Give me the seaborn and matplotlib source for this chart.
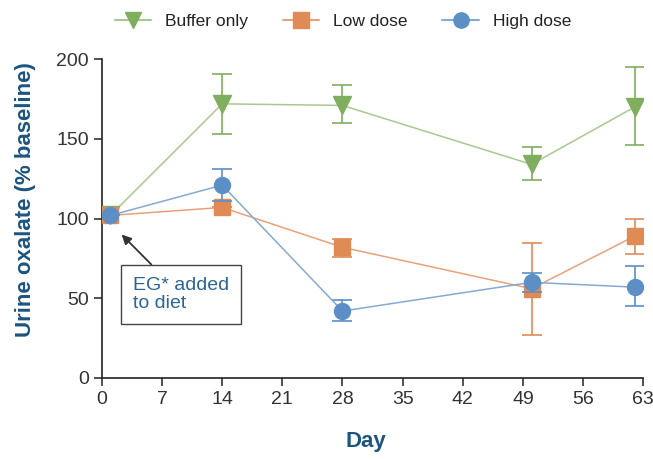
import numpy as np
import pandas as pd
import matplotlib
matplotlib.use("Agg")
import matplotlib.pyplot as plt
import seaborn as sns

# === DATA
days = [1, 14, 28, 50, 62]
buffer_mean = [102, 172, 171, 134, 170]
buffer_lo = [102, 153, 160, 124, 146]
buffer_hi = [102, 191, 184, 145, 195]
low_mean = [102, 107, 82, 56, 89]
low_lo = [102, 107, 76, 27, 78]
low_hi = [102, 107, 87, 85, 100]
high_mean = [102, 121, 42, 60, 57]
high_lo = [102, 111, 36, 54, 45]
high_hi = [102, 131, 49, 66, 70]

groups = ["Buffer only", "Low dose", "High dose"]
x_ticks = [0, 7, 14, 21, 28, 35, 42, 49, 56, 63]
y_ticks = [0, 50, 100, 150, 200]

# === STYLE
sns.set_theme(style="ticks")
plt.rcParams["font.family"] = ["Liberation Sans", "DejaVu Sans"]

marker_cols = {"Buffer only": "#7fae5e", "Low dose": "#e08b55", "High dose": "#5b8fc6"}
line_cols = {"Buffer only": "#a9c891", "Low dose": "#e6a27a", "High dose": "#86a9cf"}
markers = {"Buffer only": "v", "Low dose": "s", "High dose": "o"}
title_col = "#1d5480"

df = pd.DataFrame({
    "Day": days * 3,
    "Value": buffer_mean + low_mean + high_mean,
    "Group": [g for g in groups for _ in days],
})
err = {
    "Buffer only": (buffer_mean, buffer_lo, buffer_hi),
    "Low dose": (low_mean, low_lo, low_hi),
    "High dose": (high_mean, high_lo, high_hi),
}

fig = plt.figure(figsize=(6.53, 4.59), dpi=100)
ax = fig.add_axes([0.156, 0.1765, 0.829, 0.6945])

for i, g in enumerate(groups):
    m, lo, hi = err[g]
    m = np.array(m)
    yerr = [m - np.array(lo), np.array(hi) - m]
    ax.errorbar(days, m, yerr=yerr, fmt="none", ecolor=marker_cols[g],
                elinewidth=1.2, capsize=7, capthick=1.2, zorder=2 + i)
    sub = df[df["Group"] == g]
    sns.lineplot(data=sub, x="Day", y="Value", ax=ax, color=line_cols[g],
                 linewidth=1.1, marker=None, zorder=2 + i, legend=False)
    ax.plot(sub["Day"], sub["Value"], linestyle="none", marker=markers[g],
            markersize=11.5 if g != "Buffer only" else 12.5,
            color=marker_cols[g], markeredgecolor=marker_cols[g], zorder=3 + i)

ax.set_xlim(0, 63)
ax.set_ylim(0, 200)
ax.set_xticks(x_ticks)
ax.set_yticks(y_ticks)
ax.tick_params(labelsize=14, colors="#333333", length=6, width=1.2)
sns.despine(ax=ax)
for s in ["left", "bottom"]:
    ax.spines[s].set_color("#222222")
    ax.spines[s].set_linewidth(1.2)

ax.set_xlabel("Day", fontsize=16, fontweight="bold", color=title_col)
ax.set_ylabel("Urine oxalate (% baseline)", fontsize=16, fontweight="bold",
              color=title_col)
ax.xaxis.set_label_coords(0.487, -0.165)
ax.yaxis.set_label_coords(-0.122, 0.56)

# legend
handles = []
for g in groups:
    h, = ax.plot([], [], color=line_cols[g], linewidth=1.5, marker=markers[g],
                 markersize=11, markerfacecolor=marker_cols[g],
                 markeredgecolor=marker_cols[g])
    handles.append(h)
fig.legend(handles, groups, loc="upper center", bbox_to_anchor=(0.525, 1.003),
           ncol=3, frameon=False, fontsize=12.5, handlelength=2.1,
           handletextpad=0.8, columnspacing=2.0, labelcolor="#222222")

# annotation
ax.annotate("EG* added\nto diet", xy=(2.3, 90), xytext=(3.6, 52.5),
            fontsize=14, color="#2b6594", ha="left", va="center",
            linespacing=1.1,
            bbox=dict(boxstyle="square,pad=0.6", fc="white", ec="#444444", lw=1),
            arrowprops=dict(arrowstyle="-|>", color="#333333", lw=1.3,
                            shrinkA=0, shrinkB=0, mutation_scale=14))

fig.savefig("out.png", dpi=100)
